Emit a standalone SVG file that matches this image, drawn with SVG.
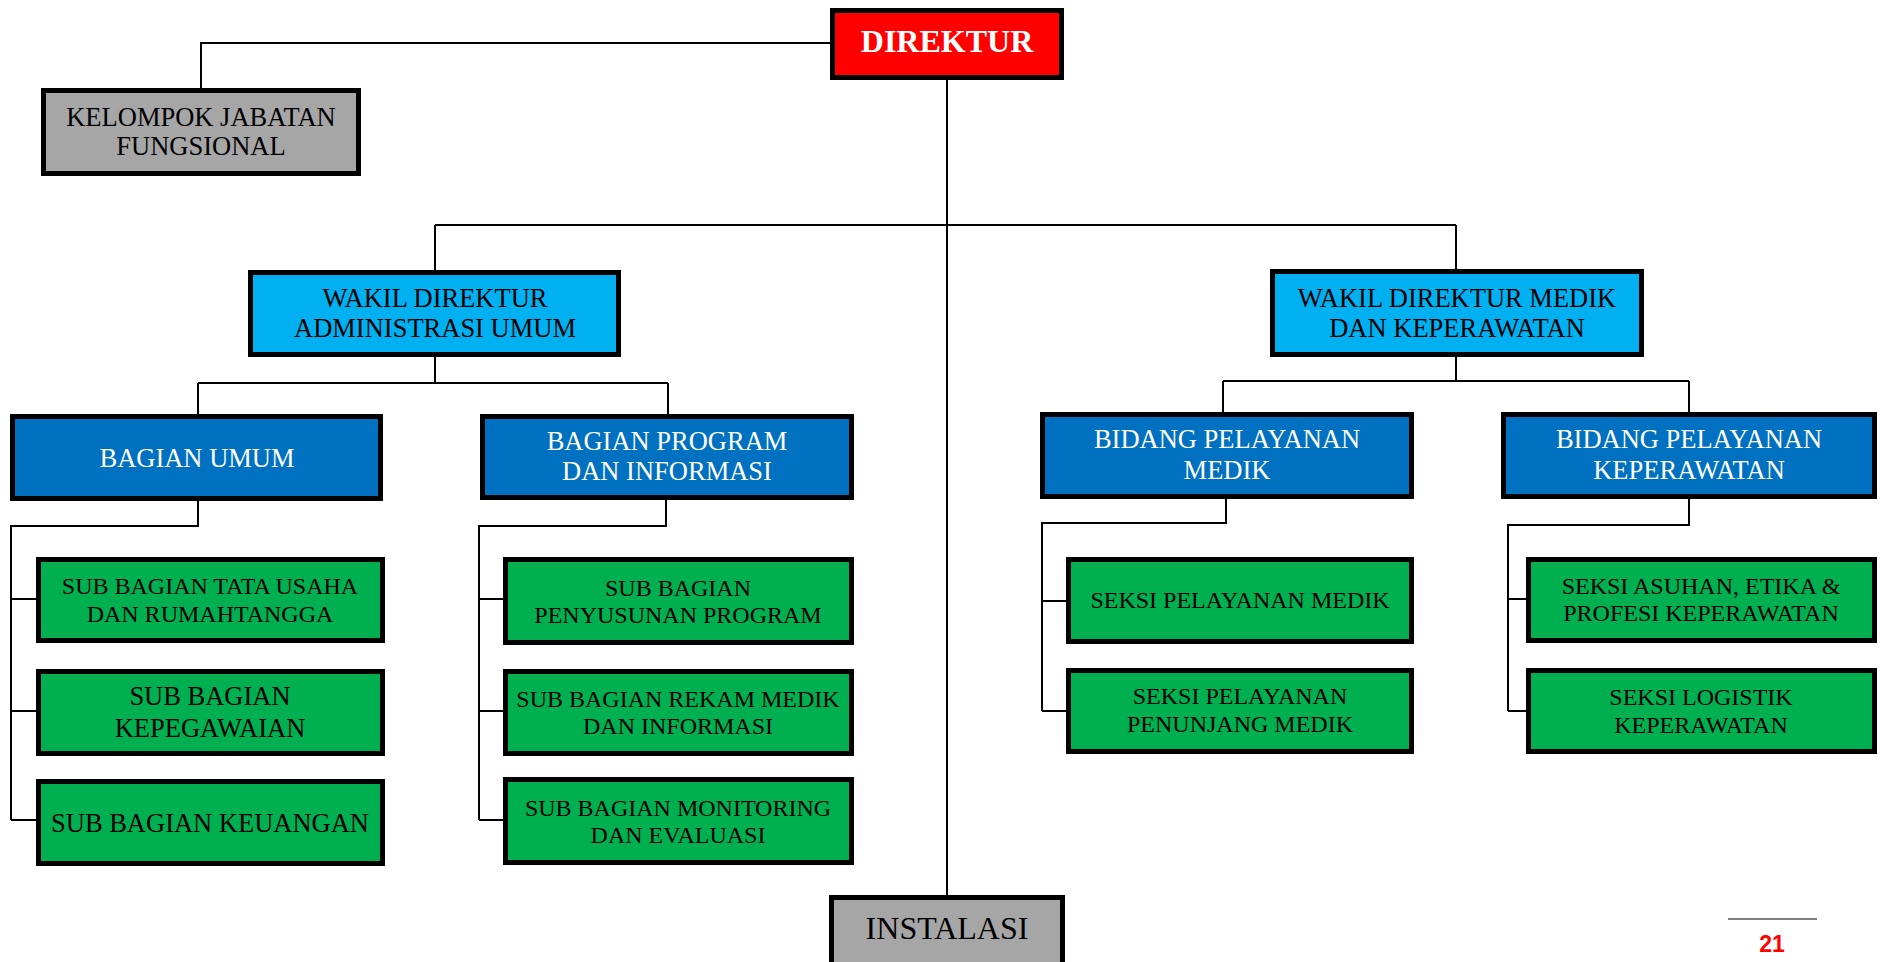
<svg xmlns="http://www.w3.org/2000/svg" width="1880" height="962" viewBox="0 0 1880 962">
<style>
.box{stroke:#000;stroke-width:5}
.red{fill:#FF0000}.gray{fill:#A6A6A6}.lb{fill:#00B0F0}.db{fill:#0070C0}.gr{fill:#00B050}
text{font-family:"Liberation Serif","Times New Roman",serif;text-anchor:middle}
.t{font-size:26.5px;fill:#000}
.tw{font-size:26.5px;fill:#fff}
.s{font-size:24px;fill:#000}
.conn path{fill:none;stroke:#000;stroke-width:2}
</style>
<rect width="1880" height="962" fill="#fff"/>
<g class="conn">
<path d="M830,43 H201 V88"/>
<path d="M947,80 V895"/>
<path d="M435,225 H1456 M435,225 V270 M1456,225 V269"/>
<path d="M435,357 V383 M198,383 H668 M198,383 V414 M668,383 V414"/>
<path d="M1456,357 V381 M1223,381 H1689 M1223,381 V412 M1689,381 V412"/>
<path d="M198,501 V526 H11 V820 M11,599 H36 M11,711 H36 M11,820 H36"/>
<path d="M666,500 V526 H479 V820 M479,599 H503 M479,711 H503 M479,820 H503"/>
<path d="M1226,499 V523 H1042 V711 M1042,601 H1066 M1042,711 H1066"/>
<path d="M1689,499 V525 H1508 V711 M1508,599 H1526 M1508,711 H1526"/>
</g>
<g id="direktur"><rect class="box red" x="832.5" y="10.5" width="229" height="67"/><text x="947" y="52" style="font-size:32px;font-weight:bold;fill:#fff">DIREKTUR</text></g>
<g id="kelompok"><rect class="box gray" x="43.5" y="90.5" width="315" height="83"/><text class="t" x="201" y="126">KELOMPOK JABATAN</text><text class="t" x="201" y="155">FUNGSIONAL</text></g>
<g id="wakil_adm"><rect class="box lb" x="250.5" y="272.5" width="368" height="82"/><text class="t" x="435" y="307">WAKIL DIREKTUR</text><text class="t" x="435" y="337">ADMINISTRASI UMUM</text></g>
<g id="wakil_medik"><rect class="box lb" x="1272.5" y="271.5" width="369" height="83"/><text class="t" x="1457" y="307">WAKIL DIREKTUR MEDIK</text><text class="t" x="1457" y="337">DAN KEPERAWATAN</text></g>
<g id="bagian_umum"><rect class="box db" x="12.5" y="416.5" width="368" height="82"/><text class="tw" x="197" y="467">BAGIAN UMUM</text></g>
<g id="bagian_program"><rect class="box db" x="482.5" y="416.5" width="369" height="81"/><text class="tw" x="667" y="450">BAGIAN PROGRAM</text><text class="tw" x="667" y="480">DAN INFORMASI</text></g>
<g id="bidang_medik"><rect class="box db" x="1042.5" y="414.5" width="369" height="82"/><text class="tw" x="1227" y="448">BIDANG PELAYANAN</text><text class="tw" x="1227" y="479">MEDIK</text></g>
<g id="bidang_kep"><rect class="box db" x="1503.5" y="414.5" width="371" height="82"/><text class="tw" x="1689" y="448">BIDANG PELAYANAN</text><text class="tw" x="1689" y="479">KEPERAWATAN</text></g>
<g id="sb_tu"><rect class="box gr" x="38.5" y="559.5" width="344" height="81"/><text class="s" x="210" y="594">SUB BAGIAN TATA USAHA</text><text class="s" x="210" y="622">DAN RUMAHTANGGA</text></g>
<g id="sb_kep"><rect class="box gr" x="38.5" y="671.5" width="344" height="82"/><text class="t" x="210" y="705">SUB BAGIAN</text><text class="t" x="210" y="737">KEPEGAWAIAN</text></g>
<g id="sb_keu"><rect class="box gr" x="38.5" y="781.5" width="344" height="82"/><text class="t" x="210" y="832">SUB BAGIAN KEUANGAN</text></g>
<g id="sb_pp"><rect class="box gr" x="505.5" y="559.5" width="346" height="83"/><text class="s" x="678" y="596">SUB BAGIAN</text><text class="s" x="678" y="623">PENYUSUNAN PROGRAM</text></g>
<g id="sb_rm"><rect class="box gr" x="505.5" y="671.5" width="346" height="82"/><text class="s" x="678" y="707">SUB BAGIAN REKAM MEDIK</text><text class="s" x="678" y="734">DAN INFORMASI</text></g>
<g id="sb_me"><rect class="box gr" x="505.5" y="779.5" width="346" height="83"/><text class="s" x="678" y="816">SUB BAGIAN MONITORING</text><text class="s" x="678" y="843">DAN EVALUASI</text></g>
<g id="seksi_pm"><rect class="box gr" x="1068.5" y="559.5" width="343" height="82"/><text class="s" x="1240" y="608">SEKSI PELAYANAN MEDIK</text></g>
<g id="seksi_ppm"><rect class="box gr" x="1068.5" y="670.5" width="343" height="81"/><text class="s" x="1240" y="704">SEKSI PELAYANAN</text><text class="s" x="1240" y="732">PENUNJANG MEDIK</text></g>
<g id="seksi_ae"><rect class="box gr" x="1528.5" y="559.5" width="346" height="81"/><text class="s" x="1701" y="594">SEKSI ASUHAN, ETIKA &amp;</text><text class="s" x="1701" y="621">PROFESI KEPERAWATAN</text></g>
<g id="seksi_lk"><rect class="box gr" x="1528.5" y="670.5" width="346" height="81"/><text class="s" x="1701" y="705">SEKSI LOGISTIK</text><text class="s" x="1701" y="733">KEPERAWATAN</text></g>
<g id="instalasi"><rect class="box gray" x="831.5" y="897.5" width="231" height="80"/><text x="947" y="939" style="font-size:32px;fill:#000">INSTALASI</text></g>
<g id="page"><line x1="1728" y1="919" x2="1817" y2="919" stroke="#808080" stroke-width="2"/><text x="1772" y="952" style="font-family:'Liberation Sans',Arial,sans-serif;font-size:23px;font-weight:bold;fill:#FF0000">21</text></g>
</svg>
